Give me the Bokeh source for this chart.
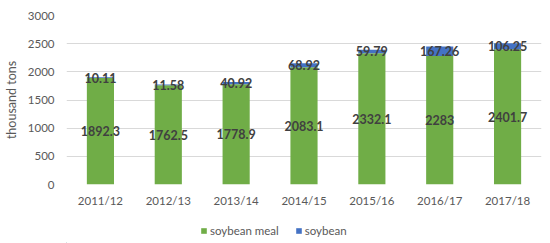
from bokeh.plotting import figure
from bokeh.models import ColumnDataSource, Legend, LegendItem, Range1d
from bokeh.layouts import column
from bokeh.core.properties import value
from bokeh.embed import file_html
from bokeh.resources import INLINE

categories = ["2011/12", "2012/13", "2013/14", "2014/15", "2015/16", "2016/17", "2017/18"]
soybean_meal = [1892.3, 1762.5, 1778.9, 2083.1, 2332.1, 2283, 2401.7]
soybean = [10.11, 11.58, 40.92, 68.92, 59.79, 167.26, 106.25]
meal_labels = ["1892.3", "1762.5", "1778.9", "2083.1", "2332.1", "2283", "2401.7"]
soy_labels = ["10.11", "11.58", "40.92", "68.92", "59.79", "167.26", "106.25"]
series_names = ["soybean meal", "soybean"]
y_ticks = [0, 500, 1000, 1500, 2000, 2500, 3000]

GREEN = "#70AD47"
BLUE = "#4472C4"
FONT = "Lato"

src = ColumnDataSource(dict(
    cat=categories,
    meal=soybean_meal,
    soy=soybean,
    meal_mid=[m / 2 for m in soybean_meal],
    soy_mid=[m + s / 2 for m, s in zip(soybean_meal, soybean)],
    meal_lab=meal_labels,
    soy_lab=soy_labels,
))

p = figure(x_range=categories, y_range=Range1d(0, 3000),
           frame_width=475, frame_height=169,
           min_border_left=65, min_border_right=10, min_border_top=15, min_border_bottom=30,
           output_backend="svg", toolbar_location=None)

p.vbar_stack(["meal", "soy"], x="cat", width=0.4, color=[GREEN, BLUE], source=src, line_color=None)

p.text(x="cat", y="meal_mid", text="meal_lab", source=src, text_align="center", text_baseline="middle",
       text_font=value(FONT), text_font_size="12.5px", text_font_style="bold", text_color="#404040")
p.text(x="cat", y="soy_mid", text="soy_lab", source=src, text_align="center", text_baseline="middle",
       text_font=value(FONT), text_font_size="12.5px", text_font_style="bold", text_color="#404040")

p.outline_line_color = None
p.background_fill_color = "white"
p.border_fill_color = "white"
p.xgrid.grid_line_color = None
p.ygrid.grid_line_color = "#D9D9D9"
p.ygrid.grid_line_width = 1

p.yaxis.ticker = y_ticks
p.yaxis.axis_line_color = None
p.yaxis.major_tick_line_color = None
p.yaxis.minor_tick_line_color = None
p.yaxis.major_tick_out = 0
p.yaxis.major_tick_in = 0
p.yaxis.major_label_text_font = FONT
p.yaxis.major_label_text_font_size = "11.5px"
p.yaxis.major_label_text_color = "#595959"
p.yaxis.major_label_standoff = 12
p.yaxis.axis_label = "thousand tons"
p.yaxis.axis_label_text_font = FONT
p.yaxis.axis_label_text_font_size = "12.5px"
p.yaxis.axis_label_text_font_style = "normal"
p.yaxis.axis_label_text_color = "#595959"
p.yaxis.axis_label_standoff = 6

p.xaxis.axis_line_color = None
p.xaxis.major_tick_line_color = None
p.xaxis.minor_tick_line_color = None
p.xaxis.major_tick_out = 0
p.xaxis.major_tick_in = 0
p.xaxis.major_label_text_font = FONT
p.xaxis.major_label_text_font_size = "11.5px"
p.xaxis.major_label_text_color = "#595959"
p.xaxis.major_label_standoff = 9

# legend strip below the chart (swatch renderers sit outside the visible range)
lg = figure(width=550, height=29, x_range=Range1d(0, 550), y_range=Range1d(0, 29),
            min_border=0, output_backend="svg", toolbar_location=None)
lg.axis.visible = False
lg.grid.grid_line_color = None
lg.outline_line_color = None
r1 = lg.vbar(x=[-50], top=[1], width=1, color=GREEN, line_color=None)
r2 = lg.vbar(x=[-50], top=[1], width=1, color=BLUE, line_color=None)
legend = Legend(items=[LegendItem(label=series_names[0], renderers=[r1]),
                       LegendItem(label=series_names[1], renderers=[r2])],
                orientation="horizontal", location=(134, 6),
                label_text_font=FONT, label_text_font_size="11.5px", label_text_color="#595959",
                glyph_width=7, glyph_height=7, label_height=14, label_standoff=3, spacing=16,
                padding=0, margin=0, border_line_color=None, background_fill_alpha=0)
lg.add_layout(legend, "center")

layout = column(p, lg, spacing=0)
open("out.html", "w").write(file_html(layout, INLINE))
